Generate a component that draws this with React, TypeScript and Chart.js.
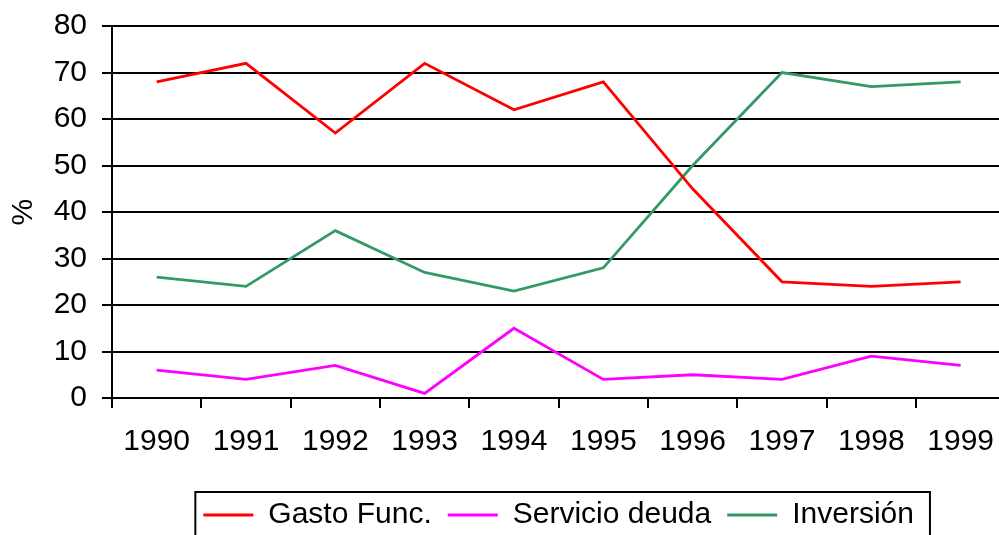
import React, { useEffect, useRef } from "react";
import { Chart, registerables } from "chart.js";

Chart.register(...registerables);

const years = ["1990", "1991", "1992", "1993", "1994", "1995", "1996", "1997", "1998", "1999"];
const gastoFunc = [68, 72, 57, 72, 62, 68, 45, 25, 24, 25];
const servicioDeuda = [6, 4, 7, 1, 15, 4, 5, 4, 9, 7];
const inversion = [26, 24, 36, 27, 23, 28, 50, 70, 67, 68];
const seriesNames = ["Gasto Func.", "Servicio deuda", "Inversión"];
const yAxisTitle = "%";
const yMin = 0;
const yMax = 80;
const yStep = 10;

const FONT = "'Liberation Sans', Arial, Helvetica, sans-serif";

const legendBoxPlugin = {
  id: "legendBox",
  afterDraw(chart: any) {
    const lg = chart.legend;
    const boxes = lg && lg.legendHitBoxes;
    if (!boxes || !boxes.length) return;
    const ctx = chart.ctx;
    const left = Math.min(...boxes.map((b: any) => b.left)) - 8;
    const right = Math.max(...boxes.map((b: any) => b.left + b.width)) + 16;
    const center = boxes[0].top + boxes[0].height / 2;
    const top = center - 23;
    ctx.save();
    ctx.strokeStyle = "#000";
    ctx.lineWidth = 2;
    ctx.strokeRect(left, top, right - left, chart.height - top + 20);
    ctx.restore();
  },
};

export default function App() {
  const ref = useRef<HTMLCanvasElement | null>(null);

  useEffect(() => {
    if (!ref.current) return;
    const mk = (label: string, data: number[], color: string) => ({
      label,
      data,
      borderColor: color,
      backgroundColor: color,
      borderWidth: 2.8,
      pointRadius: 0,
      pointHoverRadius: 0,
      tension: 0,
      fill: false,
    });
    const chart = new Chart(ref.current, {
      type: "line",
      data: {
        labels: years,
        datasets: [
          mk(seriesNames[0], gastoFunc, "#FF0000"),
          mk(seriesNames[1], servicioDeuda, "#FF00FF"),
          mk(seriesNames[2], inversion, "#339966"),
        ],
      },
      options: {
        responsive: false,
        animation: false,
        devicePixelRatio: 1,
        layout: { padding: { top: 0, left: 0, right: 0, bottom: -5 } },
        plugins: {
          tooltip: { enabled: false },
          legend: {
            position: "bottom",
            fullSize: false,
            labels: {
              color: "#000",
              font: { size: 30, family: FONT },
              usePointStyle: true,
              pointStyle: "line",
              pointStyleWidth: 50,
              boxHeight: 30,
              padding: 16,
            },
          },
        },
        scales: {
          x: {
            type: "category",
            offset: true,
            grid: {
              offset: true,
              drawOnChartArea: false,
              drawTicks: true,
              tickLength: 10,
              color: "#000",
              lineWidth: 2,
            },
            border: { color: "#000", width: 2 },
            ticks: {
              color: "#000",
              font: { size: 30, family: FONT },
              padding: 16,
              maxRotation: 0,
              autoSkip: false,
            },
            afterFit: (s: any) => {
              s.height = 86;
            },
          },
          y: {
            min: yMin,
            max: yMax,
            ticks: {
              stepSize: yStep,
              color: "#000",
              font: { size: 30, family: FONT, lineHeight: 0.74 },
              padding: 15,
            },
            grid: { color: "#000", lineWidth: 2, tickLength: 10 },
            border: { color: "#000", width: 2 },
            title: {
              display: true,
              text: yAxisTitle,
              color: "#000",
              font: { size: 30, family: FONT },
              padding: { top: 6, bottom: 0 },
            },
            afterFit: (s: any) => {
              s.width = 112;
            },
          },
        },
      },
      plugins: [legendBoxPlugin],
    } as any);
    return () => chart.destroy();
  }, []);

  return (
    <div
      style={{
        position: "fixed",
        left: 0,
        top: 0,
        width: 999,
        height: 535,
        overflow: "hidden",
        background: "#fff",
      }}
    >
      <canvas ref={ref} width={1010} height={535} style={{ display: "block" }} />
    </div>
  );
}
